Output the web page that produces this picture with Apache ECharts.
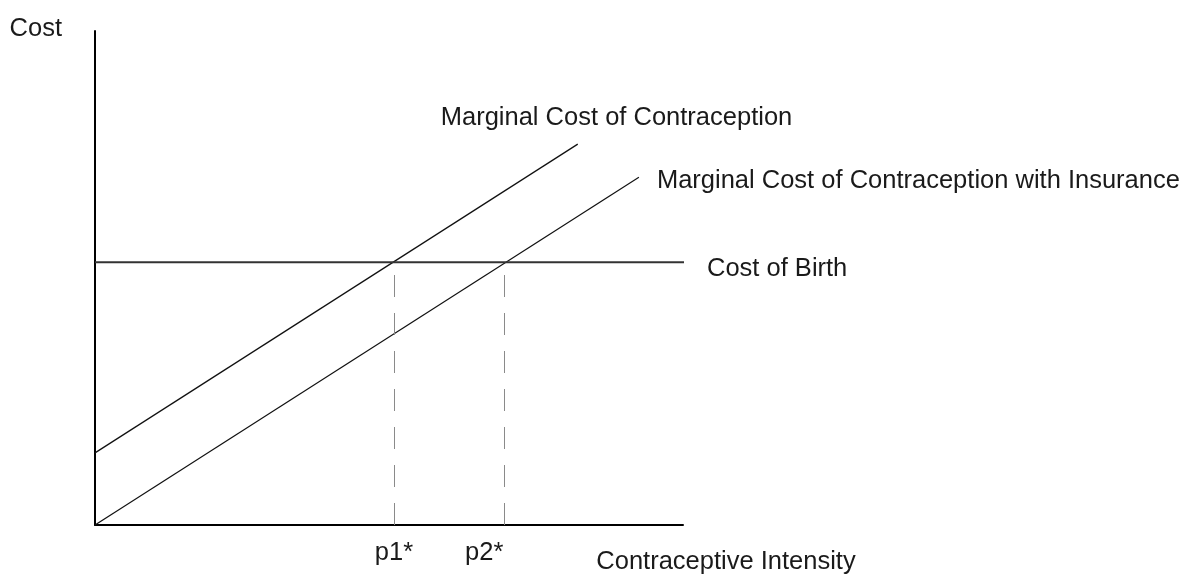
<!DOCTYPE html>
<html>
<head>
<meta charset="utf-8">
<script src="https://cdn.jsdelivr.net/npm/echarts@6/dist/echarts.min.js"></script>
<style>
html,body{margin:0;padding:0;background:#fff;}
#c{width:1192px;height:576px;}
</style>
</head>
<body>
<div id="c"></div>
<script>
// ---- data (abstract units) ----
var xRange = [0, 100];
var yRange = [0, 100];
var mcX = [0, 82.1];          // Marginal Cost of Contraception
var mcY = [14.6, 77.1];
var mciX = [0, 92.5];         // Marginal Cost of Contraception with Insurance
var mciY = [0, 70.4];
var birthX = [0, 100.9];      // Cost of Birth (horizontal)
var birthY = [53.2, 53.2];
var pX = [50.85, 69.6];       // p1*, p2*
var pLabels = ['p1*', 'p2*'];
var seriesNames = ['Marginal Cost of Contraception', 'Marginal Cost of Contraception with Insurance', 'Cost of Birth'];
var axisNames = ['Contraceptive Intensity', 'Cost'];

function pts(xs, ys) { return xs.map(function (x, i) { return [x, ys[i]]; }); }

var FONT = 'Liberation Sans, Arial, sans-serif';
var FS = 25.5;
var TXT = '#1a1a1a';

var chart = echarts.init(document.getElementById('c'), null, {renderer: 'canvas'});
chart.setOption({
  animation: false,
  backgroundColor: '#fff',
  grid: {left: 95, top: 31, width: 588, height: 494, containLabel: false, outerBoundsMode: 'none'},
  xAxis: {
    type: 'value', min: xRange[0], max: xRange[1],
    axisLine: {show: true, lineStyle: {color: '#000', width: 2}},
    axisTick: {show: false}, axisLabel: {show: false}, splitLine: {show: false},
    name: axisNames[0], nameLocation: 'middle', nameGap: 24,
    nameTextStyle: {fontFamily: FONT, fontSize: FS, color: TXT, padding: [0, 0, 0, 674]}
  },
  yAxis: {
    type: 'value', min: yRange[0], max: yRange[1],
    axisLine: {show: true, lineStyle: {color: '#000', width: 2}},
    axisTick: {show: false}, axisLabel: {show: false}, splitLine: {show: false},
    name: axisNames[1], nameLocation: 'end', nameGap: 2,
    nameTextStyle: {fontFamily: FONT, fontSize: FS, color: TXT, align: 'right', verticalAlign: 'middle', padding: [0, 33, 0, 0]}
  },
  series: [
    {
      name: seriesNames[0], type: 'line', data: pts(mcX, mcY), symbol: 'none', clip: false,
      lineStyle: {color: '#111', width: 1.2},
      endLabel: {show: true, formatter: seriesNames[0], offset: [-145, -26],
        fontFamily: FONT, fontSize: FS, color: TXT}
    },
    {
      name: seriesNames[1], type: 'line', data: pts(mciX, mciY), symbol: 'none', clip: false,
      lineStyle: {color: '#111', width: 1.2},
      endLabel: {show: true, formatter: seriesNames[1], offset: [10, 4],
        fontFamily: FONT, fontSize: FS, color: TXT}
    },
    {
      name: seriesNames[2], type: 'line', data: pts(birthX, birthY), symbol: 'none', clip: false,
      lineStyle: {color: '#333', width: 2},
      endLabel: {show: true, formatter: seriesNames[2], offset: [15, 7],
        fontFamily: FONT, fontSize: FS, color: TXT},
      markLine: {
        silent: true, symbol: ['none', 'none'], animation: false,
        lineStyle: {color: '#8a8a8a', width: 1, type: [22, 16]},
        label: {show: true, position: 'start', distance: 15, fontFamily: FONT, fontSize: FS, color: TXT},
        data: pX.map(function (x, i) {
          return [
            {coord: [x, 0], label: {formatter: pLabels[i], padding: i === 1 ? [0, 40, 0, 0] : 0}},
            {coord: [x, birthY[0]]}
          ];
        })
      }
    }
  ]
});
</script>
</body>
</html>
